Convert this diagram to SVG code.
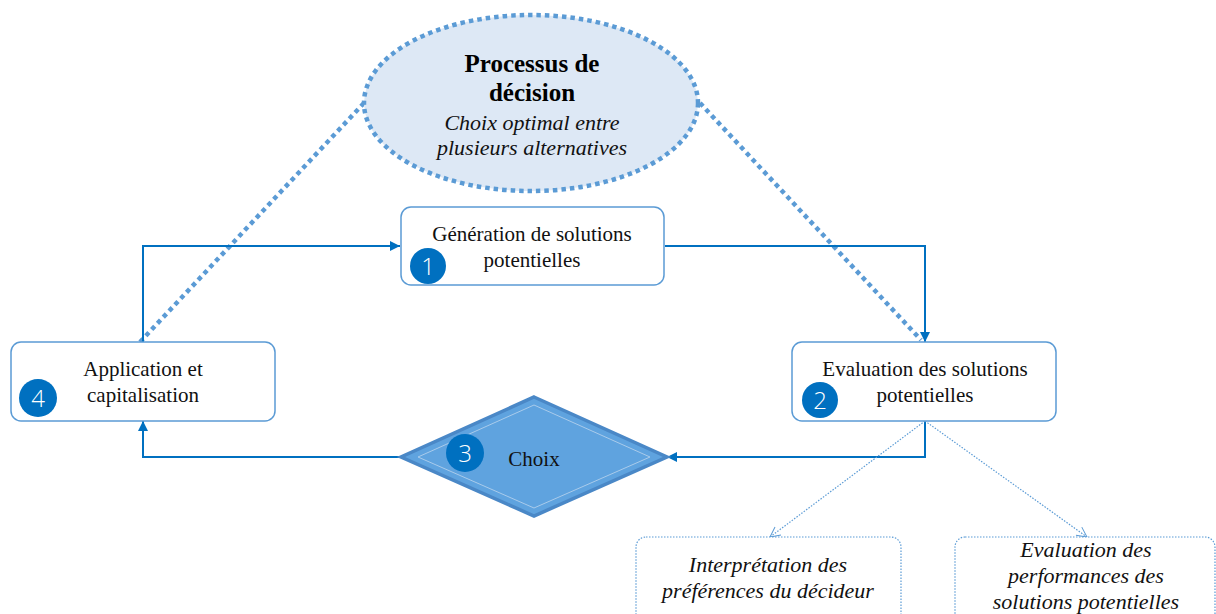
<svg xmlns="http://www.w3.org/2000/svg" width="1216" height="614" viewBox="0 0 1216 614">
<style>
.box{fill:#fff;stroke:#5b9bd5;stroke-width:1.5}
.dbox{fill:#fff;stroke:#5b9bd5;stroke-width:1.2;stroke-dasharray:1.5 1.5}
.t{font-family:"Liberation Serif",serif;font-size:21px;fill:#111;text-anchor:middle}
.ti{font-family:"Liberation Serif",serif;font-size:22px;font-style:italic;fill:#111;text-anchor:middle}
.tb{font-family:"Liberation Serif",serif;font-size:25px;font-weight:bold;fill:#000;text-anchor:middle}
.num{fill:#0070c0}
.nt{font-family:"Open Sans","Liberation Sans",sans-serif;font-weight:300;font-size:24px;fill:#fff;text-anchor:middle}
.conn{fill:none;stroke:#0070c0;stroke-width:2}
.dot{fill:none;stroke:#5b9bd5;stroke-width:4.5;stroke-dasharray:4.5 4}
.thin{fill:none;stroke:#5b9bd5;stroke-width:1.2;stroke-dasharray:1.5 1.5}
</style>
<defs>
<marker id="arr" viewBox="0 0 10 10" refX="10" refY="5" markerWidth="5" markerHeight="5" orient="auto" markerUnits="strokeWidth">
<path d="M0,0 L10,5 L0,10 z" fill="#0070c0"/>
</marker>
<marker id="open" viewBox="0 0 12 12" refX="11" refY="6" markerWidth="12" markerHeight="12" orient="auto" markerUnits="userSpaceOnUse">
<path d="M1,1 L11,6 L1,11" fill="none" stroke="#5b9bd5" stroke-width="1"/>
</marker>
</defs>

<g id="connectors">
<line class="dot" x1="364" y1="103" x2="140" y2="342"/>
<line class="dot" x1="700" y1="103" x2="921" y2="340"/>
<polyline class="conn" points="143,342 143,246 400,246" marker-end="url(#arr)"/>
<polyline class="conn" points="665,246 925,246 925,342" marker-end="url(#arr)"/>
<polyline class="conn" points="925,421 925,457 667,457" marker-end="url(#arr)"/>
<polyline class="conn" points="401,457 143,457 143,421" marker-end="url(#arr)"/>
<line class="thin" x1="925" y1="421" x2="770" y2="537" marker-end="url(#open)"/>
<line class="thin" x1="925" y1="421" x2="1087" y2="537" marker-end="url(#open)"/>
</g>

<g id="process">
<ellipse cx="531" cy="103" rx="167" ry="88" fill="#dde8f5" stroke="#5b9bd5" stroke-width="4.5" stroke-dasharray="4.5 4"/>
<text class="tb" x="532" y="72">Processus de</text>
<text class="tb" x="532" y="101">décision</text>
<text class="ti" x="532" y="130">Choix optimal entre</text>
<text class="ti" x="532" y="155">plusieurs alternatives</text>
</g>

<g id="node1">
<rect class="box" x="401" y="207" width="263" height="78" rx="10"/>
<text class="t" x="532" y="241">Génération  de solutions</text>
<text class="t" x="532" y="267">potentielles</text>
<circle class="num" cx="428" cy="266" r="18"/>
<text class="nt" x="428" y="275">1</text>
</g>

<g id="node2">
<rect class="box" x="792" y="342" width="264" height="79" rx="10"/>
<text class="t" x="925" y="376">Evaluation  des solutions</text>
<text class="t" x="925" y="402">potentielles</text>
<circle class="num" cx="820" cy="400" r="18"/>
<text class="nt" x="820" y="409">2</text>
</g>

<g id="node3">
<polygon points="534,397 667,457 534,516 401,457" fill="#5fa3df" stroke="#4a88c7" stroke-width="3.5"/>
<polygon points="534,405 650,457 534,508 418,457" fill="none" stroke="#a9cbeb" stroke-width="1"/>
<circle class="num" cx="465" cy="453" r="19"/>
<text class="nt" x="465" y="462">3</text>
<text class="t" x="534" y="466">Choix</text>
</g>

<g id="node4">
<rect class="box" x="11" y="342" width="264" height="79" rx="10"/>
<text class="t" x="143" y="376">Application  et</text>
<text class="t" x="143" y="402">capitalisation</text>
<circle class="num" cx="38" cy="398" r="19"/>
<text class="nt" x="38" y="407">4</text>
</g>

<g id="nodeA">
<rect class="dbox" x="636" y="537" width="265" height="90" rx="10"/>
<text class="ti" x="768" y="572">Interprétation des</text>
<text class="ti" x="768" y="598">préférences du décideur</text>
</g>

<g id="nodeB">
<rect class="dbox" x="955" y="537" width="260" height="90" rx="10"/>
<text class="ti" x="1086" y="557">Evaluation des</text>
<text class="ti" x="1086" y="583">performances des</text>
<text class="ti" x="1086" y="609">solutions potentielles</text>
</g>
</svg>
